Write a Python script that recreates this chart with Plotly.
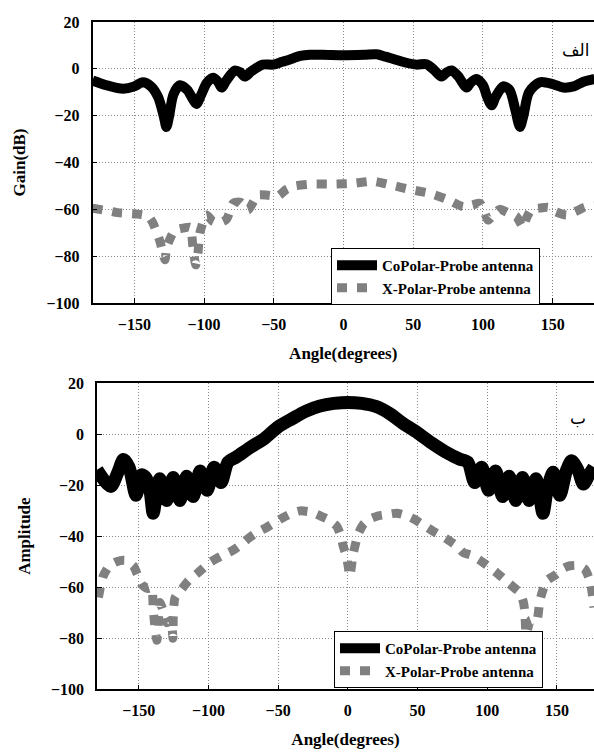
import plotly.graph_objects as go

# ---------------- data ----------------
x_ticks = [-150, -100, -50, 0, 50, 100, 150]
y_ticks = [-100, -80, -60, -40, -20, 0, 20]

# Top panel (Gain, dB)
angle_top_co = [-180, -170, -158, -150, -144, -138, -133, -129, -127, -125, -122, -117.4, -112,
                -108, -105.4, -102, -98, -93.5, -90, -87.5, -84, -78, -74, -70.8, -66, -58,
                -50.5, -44, -38.5, -31, -24, -15, 0, 15, 23.7, 30, 38, 45, 52.4, 59.5, 65,
                70.3, 74, 77.5, 82, 88.2, 91, 95.4, 100, 103, 106.2, 109, 114.5, 119, 123,
                126.5, 129, 133, 140.8, 150, 157.5, 165, 172, 180]
gain_top_co = [-5, -7, -8.5, -7.5, -5.7, -7.5, -12, -20, -24.8, -20, -11, -7, -9,
               -13, -15, -11, -6, -3.8, -5.5, -8, -5, -0.7, -1.5, -3.3, -1, 1.8,
               1.8, 3, 4, 5.5, 6, 6, 5.8, 6, 6.2, 5.2, 3.8, 2.6, 1.8, 2, -0.5,
               -3.3, -1.5, -0.7, -3, -8, -6, -4.3, -7, -12, -15.6, -12, -7.5, -9, -17,
               -24.8, -20, -10, -5.7, -6.5, -8, -7.5, -5.5, -4.3]

angle_top_x = [-180, -170, -162, -148.5, -140, -136.8, -132, -128, -127, -124, -121, -115, -110,
               -108, -106, -104.4, -103, -98.3, -94, -90, -84, -79, -74, -68.5, -61.5, -54,
               -47, -41, -35, -22, -7.4, 6.9, 21.2, 34.4, 47.6, 62, 73.9, 85.8, 93, 97.8,
               101, 103.7, 108, 112, 118, 124, 128.8, 131, 134.8, 140, 146.7, 152, 160, 166,
               173, 180]
gain_top_x = [-59.5, -60.5, -61.4, -62, -63, -65.7, -73, -81.5, -76.6, -72, -69, -68, -67.7,
              -75.9, -83.7, -78.7, -70, -62.4, -65, -65.9, -64.3, -57.3, -57, -60.3, -53.9, -54,
              -54.3, -51.5, -50, -49.2, -49.2, -48.9, -48, -49.7, -51.5, -53.2, -55.7, -58.9, -58, -57.4,
              -61, -64.6, -62, -60, -61.5, -63.1, -67.7, -64, -60, -59.5, -59.1, -61, -62.4, -61,
              -59.1, -58.5]

# Bottom panel (Amplitude)
angle_bot_co = [-180, -175, -170, -165, -161, -157, -152, -148, -145, -142, -139.7, -137, -134.9,
                -130, -125.3, -120.5, -115.7, -111, -106, -101, -96, -91, -86, -80, -70, -60,
                -50, -40, -30, -20, -10, 0, 10, 20, 30, 40, 50, 60, 70, 80, 86, 91, 96, 101,
                106, 111, 115.7, 120.5, 125.3, 130, 134.9, 137, 140, 143, 147.3, 152, 157,
                160.5, 165, 169, 173, 176.5]
amp_bot_co = [-14, -18, -20.5, -15, -10, -13, -24, -16, -17, -22, -31, -22, -17.5,
              -26, -17, -26, -16.5, -24.5, -14.5, -22, -13, -19, -11, -9, -5.2, -1.8,
              2.8, 6, 9, 11, 12, 12.4, 12, 10.8, 8, 4, 0.5, -3.5, -7, -9.8, -11, -19, -13, -22,
              -14.5, -24.5, -16.5, -26, -17, -26, -17.5, -22, -31, -22, -15, -24, -14,
              -10.5, -14, -19.6, -16, -13]

angle_bot_x = [-179, -175.5, -171, -166, -160, -154, -151, -148, -144, -140.8, -139.7, -138.3, -137,
               -136, -134.9, -132, -130, -127, -125.5, -125.3, -124, -119.3, -114.5, -107.4, -99,
               -90.6, -82.3, -76, -71.7, -65, -58.3, -52, -46.4, -40, -34.4, -27, -20, -14, -8.1,
               -5, -3.4, -1, 0, 1.4, 3.8, 7.4, 11, 15.8, 22, 29, 35, 42.1, 48, 55.2, 61, 67.2,
               72, 78, 83, 88.7, 97, 106.7, 115, 120, 123.4, 126, 127, 128, 131, 135.4, 137.7,
               140, 142.5, 149.7, 155, 159.3, 165, 170, 174, 176.5]
amp_bot_x = [-64, -55.6, -51.5, -50, -49.5, -51.6, -55, -58.8, -60.5, -60.2, -68, -76.5, -80.8,
             -74, -66, -70, -73.9, -73, -80, -72, -64.1, -60.8, -57.5, -54.3, -50.3,
             -47.7, -45.5, -43, -41, -38.5, -36.6, -34.5, -32.7, -31, -30.1, -30.5, -32, -33.5, -36,
             -40, -43.8, -48, -51, -55.6, -47, -39.2, -35.5, -33.3, -32, -31.4, -31, -32, -33.5, -36, -38, -39.9,
             -41.5, -43.8, -46.5, -47.5, -50.3, -54.3, -58.2, -60.5, -62.1, -66, -70, -78.4, -73, -73.2, -65.4,
             -61, -57.5, -54.9, -52.5, -51.6, -51.5, -52.9, -58, -68]

series_names = ["CoPolar-Probe antenna", "X-Polar-Probe antenna"]

# ---------------- styling ----------------
FONT = "Liberation Serif"
GREY = "#808080"
W, H = 594, 753

fig = go.Figure()

fig.add_trace(go.Scatter(x=angle_top_co, y=gain_top_co, mode="lines", name=series_names[0],
                         line=dict(color="black", width=10, shape="spline", smoothing=0.8),
                         xaxis="x", yaxis="y", legend="legend", legendgroup="co1"))
fig.add_trace(go.Scatter(x=angle_top_x, y=gain_top_x, mode="lines", name=series_names[1],
                         line=dict(color=GREY, width=9, dash="10px,10px", shape="spline", smoothing=0.6),
                         xaxis="x", yaxis="y", legend="legend", legendgroup="x1"))
fig.add_trace(go.Scatter(x=angle_bot_co, y=amp_bot_co, mode="lines", name=series_names[0],
                         line=dict(color="black", width=13, shape="spline", smoothing=0.8),
                         xaxis="x2", yaxis="y2", legend="legend2", legendgroup="co2"))
fig.add_trace(go.Scatter(x=angle_bot_x, y=amp_bot_x, mode="lines", name=series_names[1],
                         line=dict(color=GREY, width=9, dash="10px,10px", shape="spline", smoothing=0.6),
                         xaxis="x2", yaxis="y2", legend="legend2", legendgroup="x2"))

tickfont = dict(family=FONT, size=16, color="black", weight="bold")
titlefont = dict(family=FONT, size=17, color="black", weight="bold")

def xax(domain, rng, anchor):
    return dict(domain=domain, range=rng, anchor=anchor, tickvals=x_ticks,
                showgrid=True, gridcolor="#888", griddash="1px,2px", gridwidth=1,
                showline=True, linecolor="black", linewidth=1.5, mirror=True,
                ticks="inside", ticklen=5, tickcolor="black", zeroline=False,
                tickfont=tickfont, ticklabelstandoff=6, automargin=False,
                title=dict(text="Angle(degrees)", font=titlefont, standoff=15))

def yax(domain, anchor, title, mirror):
    return dict(domain=domain, range=[-100, 20], anchor=anchor, tickvals=y_ticks,
                showgrid=True, gridcolor="#888", griddash="1px,2px", gridwidth=1,
                showline=True, linecolor="black", linewidth=1.5, mirror=mirror,
                ticks="inside", ticklen=5, tickcolor="black", zeroline=False,
                tickfont=tickfont, ticklabelstandoff=8, automargin=False,
                title=dict(text=title, font=titlefont, standoff=16))

legfont = dict(family=FONT, size=15, color="black", weight="bold")

def legend_box(x_px, y_px):
    return dict(x=x_px / W, y=1 - y_px / H, xanchor="left", yanchor="top",
                orientation="v", itemwidth=40, tracegroupgap=0,
                bgcolor="white", bordercolor="black", borderwidth=1, font=legfont)

fig.update_layout(
    width=W, height=H,
    margin=dict(l=0, r=0, t=0, b=0, autoexpand=False),
    paper_bgcolor="white", plot_bgcolor="white",
    xaxis=xax([92.5 / W, 1], [-180, 179.6], "y"),
    yaxis=yax([1 - 303 / H, 1 - 22 / H], "x", "Gain(dB)", True),
    xaxis2=xax([97 / W, 1], [-180, 176.6], "y2"),
    yaxis2=yax([1 - 689.3 / H, 1 - 383 / H], "x2", "Amplitude", False),
    legend=legend_box(331, 248),
    legend2=legend_box(334, 631),
    annotations=[
        dict(text="الف", x=576 / W, y=1 - 50 / H, xref="paper", yref="paper",
             xanchor="center", yanchor="middle",
             showarrow=False, font=dict(family="DejaVu Sans", size=17, color="black")),
        dict(text="ب", x=578 / W, y=1 - 418 / H, xref="paper", yref="paper",
             xanchor="center", yanchor="middle",
             showarrow=False, font=dict(family="DejaVu Sans", size=17, color="black")),
    ],
)

fig.write_html("out.html")
